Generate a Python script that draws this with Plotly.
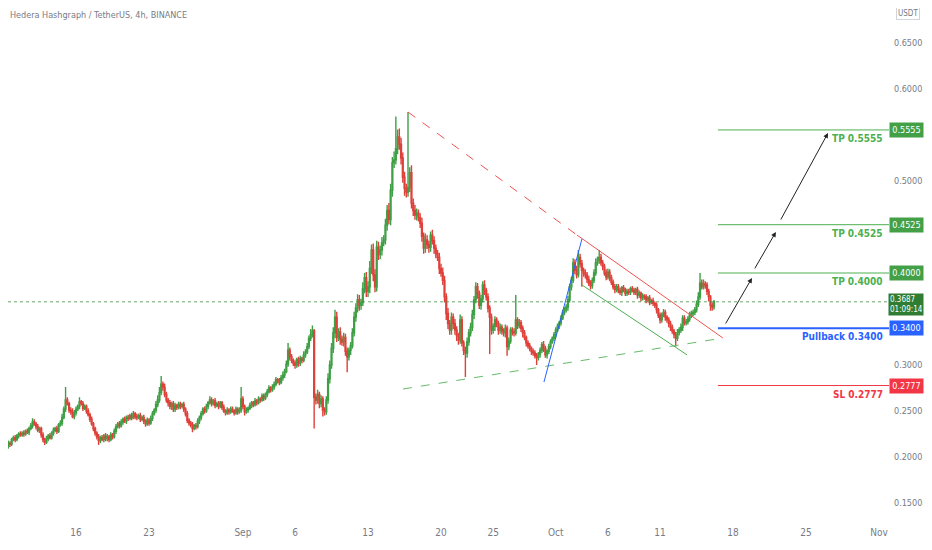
import pandas as pd
import plotly.graph_objects as go

# HBAR/USDT 4h closes, one line per day (6 candles), starting 2021-08-08 16:00
closes = [
    0.224, 0.220,
    0.218, 0.213, 0.211, 0.215, 0.214, 0.219,  # Aug 9
    0.221, 0.219, 0.223, 0.225, 0.224, 0.226,
    0.225, 0.228, 0.227, 0.231, 0.234, 0.238,
    0.236, 0.233, 0.229, 0.231, 0.224, 0.219,
    0.216, 0.220, 0.223, 0.221, 0.226, 0.229,
    0.231, 0.228, 0.235, 0.237, 0.243, 0.252,
    0.262, 0.258, 0.251, 0.249, 0.244, 0.248,  # Aug 15
    0.252, 0.255, 0.260, 0.258, 0.253, 0.255,
    0.250, 0.246, 0.241, 0.236, 0.231, 0.226,
    0.222, 0.218, 0.221, 0.219, 0.223, 0.220,
    0.222, 0.219, 0.224, 0.222, 0.228, 0.233,
    0.236, 0.234, 0.238, 0.241, 0.239, 0.243,
    0.242, 0.245, 0.243, 0.247, 0.244, 0.243,
    0.245, 0.241, 0.243, 0.239, 0.236, 0.240,
    0.237, 0.242, 0.247, 0.251, 0.257, 0.262,  # Aug 23
    0.270, 0.279, 0.276, 0.268, 0.262, 0.259,
    0.255, 0.258, 0.252, 0.256, 0.254, 0.257,
    0.255, 0.257, 0.252, 0.247, 0.240, 0.237,
    0.235, 0.231, 0.234, 0.233, 0.239, 0.243,
    0.247, 0.252, 0.250, 0.255, 0.259, 0.262,
    0.258, 0.261, 0.256, 0.258, 0.255, 0.259,
    0.254, 0.250, 0.248, 0.251, 0.249, 0.252,
    0.250, 0.248, 0.252, 0.249, 0.251, 0.263,
    0.255, 0.249, 0.251, 0.253, 0.256, 0.259,  # Sep 1
    0.257, 0.261, 0.259, 0.263, 0.262, 0.266,
    0.264, 0.268, 0.271, 0.275, 0.273, 0.276,
    0.279, 0.284, 0.283, 0.281, 0.286, 0.289,
    0.293, 0.301, 0.316, 0.309, 0.305, 0.302,
    0.300, 0.306, 0.302, 0.307, 0.305, 0.311,
    0.314, 0.320, 0.329, 0.333, 0.337, 0.265,  # Sep 7
    0.262, 0.268, 0.258, 0.263, 0.251, 0.249,
    0.262, 0.285, 0.300, 0.318, 0.335, 0.352,
    0.330, 0.336, 0.328, 0.325, 0.330, 0.315,
    0.309, 0.316, 0.321, 0.335, 0.352, 0.362,
    0.371, 0.365, 0.368, 0.383, 0.395, 0.380,
    0.385, 0.405, 0.425, 0.398, 0.385, 0.428,  # Sep 13
    0.420, 0.425, 0.433, 0.436, 0.452, 0.468,
    0.458, 0.490, 0.520, 0.523, 0.535, 0.548,
    0.540, 0.525, 0.504, 0.492, 0.488, 0.493,
    0.509, 0.476, 0.468, 0.463, 0.465, 0.460,
    0.454, 0.440, 0.427, 0.436, 0.431, 0.428,
    0.441, 0.435, 0.427, 0.421, 0.417, 0.405,
    0.400, 0.392, 0.374, 0.356, 0.345, 0.338,  # Sep 20
    0.352, 0.345, 0.338, 0.332, 0.327, 0.349,
    0.324, 0.316, 0.313, 0.325, 0.335, 0.341,
    0.355, 0.371, 0.385, 0.378, 0.365, 0.372,
    0.387, 0.381, 0.374, 0.362, 0.352, 0.338,
    0.342, 0.349, 0.345, 0.338, 0.341, 0.337,
    0.335, 0.340, 0.320, 0.326, 0.338, 0.336,
    0.335, 0.349, 0.343, 0.346, 0.340, 0.335,
    0.330, 0.324, 0.321, 0.318, 0.315, 0.313,
    0.310, 0.308, 0.312, 0.316, 0.322, 0.318,
    0.311, 0.315, 0.320, 0.325, 0.329, 0.333,
    0.338, 0.342, 0.346, 0.351, 0.357, 0.360,  # Oct 1
    0.363, 0.371, 0.385, 0.392, 0.411, 0.403,
    0.398, 0.417, 0.410, 0.403, 0.400, 0.398,
    0.393, 0.389, 0.386, 0.392, 0.400, 0.411,
    0.414, 0.417, 0.411, 0.407, 0.400, 0.396,
    0.401, 0.395, 0.390, 0.385, 0.382, 0.385,  # Oct 6
    0.381, 0.379, 0.384, 0.382, 0.378, 0.380,
    0.379, 0.383, 0.381, 0.379, 0.382, 0.376,
    0.378, 0.373, 0.375, 0.374, 0.371, 0.373,
    0.368, 0.370, 0.367, 0.365, 0.360, 0.354,
    0.349, 0.355, 0.357, 0.352, 0.349, 0.345,  # Oct 11
    0.341, 0.337, 0.333, 0.329, 0.335, 0.338,
    0.341, 0.351, 0.346, 0.347, 0.350, 0.354,
    0.356, 0.357, 0.360, 0.366, 0.374, 0.389,
    0.385, 0.388, 0.387, 0.380, 0.374, 0.365,
    0.363, 0.3687,
]
first_open = 0.226

# wick lengths in thousandths above / below the body
up_wick = [
    2, 3,
    3, 2, 2, 3, 2, 2,  2, 3, 2, 2, 3, 2,  3, 2, 3, 2, 3, 4,  3, 2, 3, 2, 2, 3,
    2, 3, 2, 3, 2, 3,  2, 3, 2, 3, 4, 3,  14, 3, 2, 3, 4, 3,  3, 2, 5, 2, 3, 2,
    2, 3, 2, 3, 2, 2,  2, 3, 2, 3, 2, 3,  3, 2, 3, 2, 3, 3,  2, 3, 3, 2, 3, 2,
    3, 2, 3, 3, 2, 3,  2, 3, 2, 3, 2, 3,  2, 3, 3, 2, 4, 5,  6, 9, 3, 4, 3, 2,
    3, 2, 3, 3, 2, 3,  3, 2, 3, 2, 3, 2,  2, 3, 2, 3, 3, 2,  3, 2, 3, 3, 2, 4,
    3, 2, 3, 2, 3, 2,  2, 3, 2, 3, 2, 3,  3, 2, 3, 2, 3, 13,  3, 2, 3, 2, 3, 2,
    2, 3, 2, 3, 2, 3,  3, 2, 3, 3, 2, 3,  3, 3, 2, 3, 3, 4,  3, 4, 8, 3, 3, 2,
    3, 2, 3, 3, 2, 4,  3, 4, 3, 6, 6, 2,  4, 5, 3, 4, 3, 3,  4, 6, 5, 6, 6, 8,
    6, 4, 5, 4, 5, 4,  4, 3, 4, 5, 6, 5,  6, 5, 4, 7, 5, 6,  6, 8, 6, 7, 6, 7,
    6, 5, 6, 5, 7, 6,  8, 7, 6, 9, 35, 8,  9, 7, 6, 6, 5, 82,  6, 8, 5, 6, 5, 4,
    5, 6, 4, 7, 5, 4,  4, 6, 5, 4, 4, 5,  5, 6, 5, 4, 6, 4,  5, 4, 5, 4, 3, 6,
    4, 3, 4, 5, 4, 5,  5, 4, 5, 4, 3, 4,  4, 5, 3, 4, 3, 4,  3, 4, 3, 3, 4, 3,
    3, 4, 3, 4, 3, 3,  4, 27, 3, 4, 3, 3,  3, 2, 3, 3, 2, 3,  3, 3, 2, 3, 3, 4,
    3, 2, 3, 3, 2, 3,  3, 3, 2, 3, 3, 3,  3, 4, 3, 4, 5, 4,  5, 8, 4, 4, 3, 4,
    3, 4, 3, 3, 4, 5,  4, 8, 4, 3, 3, 4,  4, 3, 3, 3, 3, 3,  3, 3, 2, 3, 2, 3,
    3, 2, 3, 3, 2, 3,  3, 2, 3, 2, 3, 2,  3, 2, 3, 2, 3, 2,  3, 2, 4, 3, 2, 3,
    3, 3, 2, 3, 4, 3,  4, 3, 3, 3, 3, 4,  3, 3, 3, 4, 5, 11,  4, 5, 3, 3, 3, 2,
    3, 2,
]
down_wick = [
    2, 3,
    3, 3, 2, 2, 3, 2,  2, 3, 2, 3, 2, 2,  3, 2, 2, 3, 2, 3,  2, 3, 2, 3, 3, 3,
    3, 2, 3, 2, 2, 3,  2, 3, 2, 2, 3, 2,  3, 2, 3, 3, 2, 3,  3, 2, 3, 2, 3, 2,
    3, 2, 3, 2, 3, 3,  3, 5, 3, 2, 3, 3,  3, 3, 2, 3, 2, 3,  2, 3, 2, 3, 2, 3,
    3, 2, 3, 2, 3, 3,  2, 3, 2, 3, 3, 2,  3, 2, 3, 2, 3, 3,  3, 3, 4, 3, 3, 4,
    3, 4, 3, 3, 3, 2,  3, 2, 3, 3, 3, 3,  3, 4, 2, 3, 2, 3,  3, 2, 3, 2, 3, 2,
    3, 2, 3, 2, 3, 2,  3, 2, 3, 2, 3, 2,  2, 3, 2, 3, 2, 3,  3, 4, 2, 3, 2, 3,
    3, 2, 3, 2, 3, 2,  3, 2, 3, 2, 3, 2,  3, 2, 3, 3, 2, 3,  3, 2, 3, 4, 3, 3,
    4, 3, 4, 3, 3, 2,  3, 2, 3, 3, 3, 34,  5, 4, 5, 4, 7, 4,  3, 4, 5, 4, 5, 6,
    5, 4, 6, 4, 5, 5,  17, 4, 5, 3, 4, 5,  5, 6, 5, 4, 5, 6,  6, 7, 6, 7, 6, 5,
    6, 5, 6, 4, 5, 6,  5, 6, 7, 6, 5, 6,  6, 7, 6, 8, 6, 5,  5, 6, 6, 5, 6, 4,
    5, 6, 6, 5, 5, 6,  5, 4, 6, 5, 4, 6,  4, 5, 6, 7, 6, 5,  5, 6, 5, 6, 5, 4,
    4, 5, 26, 5, 4, 4,  4, 5, 4, 6, 4, 5,  4, 5, 4, 5, 40, 5,  4, 5, 4, 5, 4, 4,
    4, 5, 10, 4, 3, 4,  4, 3, 4, 3, 4, 5,  3, 4, 3, 3, 4, 3,  3, 8, 3, 4, 3, 4,
    3, 4, 3, 3, 2, 3,  3, 2, 3, 3, 2, 3,  3, 4, 3, 4, 3, 4,  4, 3, 4, 18, 4, 4,
    4, 3, 4, 3, 3, 3,  3, 4, 3, 4, 3, 4,  3, 4, 3, 3, 4, 3,  3, 3, 4, 3, 3, 3,
    3, 3, 2, 3, 3, 4,  3, 4, 3, 3, 4, 3,  3, 2, 3, 3, 4, 3,  4, 3, 3, 4, 3, 4,
    4, 3, 4, 9, 3, 3,  3, 4, 3, 3, 3, 3,  3, 3, 3, 3, 3, 3,  3, 3, 4, 4, 5, 6,
    4, 3,
]

# trade plan levels
level_names = ['TP 0.5555', 'TP 0.4525', 'TP 0.4000', 'Pullback 0.3400', 'SL 0.2777']
level_prices = [0.5555, 0.4525, 0.4000, 0.3400, 0.2777]
level_colors = ['#4CAF50', '#4CAF50', '#4CAF50', '#2962FF', '#F23645']
last_price = 0.3687
countdown = '01:09:14'

# drawn lines: (start time, start price, end time, end price, colour, dash)
trend_lines = [
    ('2021-09-16 19:55', 0.5750, '2021-10-03 00:45', 0.4413, '#EF5350', 'dash'),
    ('2021-10-03 00:45', 0.4413, '2021-10-17 00:45', 0.3293, '#EF5350', 'solid'),
    ('2021-09-16 08:25', 0.2739, '2021-10-17 00:45', 0.3293, '#66BB6A', 'dash'),
    ('2021-09-29 20:50', 0.2815, '2021-10-03 12:15', 0.4370, '#2962FF', 'solid'),
    ('2021-10-03 12:15', 0.3870, '2021-10-13 14:00', 0.3110, '#4CAF50', 'solid'),
]
# projection arrows: (tail time, tail price, head time, head price)
arrows = [
    ('2021-10-17 05:00', 0.3435, '2021-10-19 19:30', 0.3946),
    ('2021-10-20 00:00', 0.4033, '2021-10-22 02:30', 0.4446),
    ('2021-10-22 12:00', 0.4565, '2021-10-27 02:30', 0.5522),
]

tick_dates = ['2021-08-09', '2021-08-16', '2021-08-23', '2021-09-01', '2021-09-06',
              '2021-09-13', '2021-09-20', '2021-09-25', '2021-10-01', '2021-10-06',
              '2021-10-11', '2021-10-18', '2021-10-25', '2021-11-01']
tick_text = ['9', '16', '23', 'Sep', '6', '13', '20', '25', 'Oct', '6', '11', '18', '25', 'Nov']
price_ticks = [0.15, 0.20, 0.25, 0.30, 0.50, 0.60, 0.65]

# page body has an 8px margin, so the figure is sized to sit inside the window
x_range = ['2021-08-09 11:30', '2021-11-01 22:50']
y_range = [0.12609, 0.68804]
level_start = '2021-10-16 13:10'

times = pd.date_range('2021-08-08 16:00', periods=len(closes), freq='4h')
opens = [first_open] + closes[:-1]
highs = [max(o, c) + u / 1000 for o, c, u in zip(opens, closes, up_wick)]
lows = [min(o, c) - d / 1000 for o, c, d in zip(opens, closes, down_wick)]

GREEN = '#3E9F45'
RED = '#E0403A'
GREY = '#787B86'
FONT = 'Liberation Sans Narrow, DejaVu Sans Condensed, Roboto, sans-serif'

fig = go.Figure()
fig.add_trace(go.Candlestick(
    x=times, open=opens, high=highs, low=lows, close=closes,
    increasing=dict(line=dict(color=GREEN, width=1.4), fillcolor=GREEN),
    decreasing=dict(line=dict(color=RED, width=1.4), fillcolor=RED),
    whiskerwidth=0, showlegend=False, hoverinfo='skip'))

# current price dotted line
fig.add_shape(type='line', xref='x', yref='y', x0=x_range[0], x1=x_range[1],
              y0=last_price, y1=last_price,
              line=dict(color='rgba(56,142,60,0.75)', width=1, dash='dot'))

for x0, y0, x1, y1, col, dash in trend_lines:
    fig.add_shape(type='line', xref='x', yref='y', x0=x0, y0=y0, x1=x1, y1=y1,
                  line=dict(color=col, width=1, dash=dash))

for name, price, col in zip(level_names, level_prices, level_colors):
    fig.add_shape(type='line', xref='x', yref='y', x0=level_start, x1=x_range[1],
                  y0=price, y1=price,
                  line=dict(color=col, width=2 if 'Pullback' in name else 1))
    fig.add_annotation(xref='paper', yref='y', x=0.9955, y=price, text='<b>%s</b>' % name,
                       xanchor='right', yanchor='top', yshift=-1, showarrow=False,
                       font=dict(family=FONT, size=10, color=col))
    box_col = '#43A047' if col == '#4CAF50' else col
    fig.add_annotation(xref='paper', yref='y', x=1, y=price, text='%.4f' % price,
                       xanchor='left', yanchor='middle', showarrow=False,
                       bgcolor=box_col, width=29, borderpad=2,
                       font=dict(family=FONT, size=9, color='white'))

fig.add_annotation(xref='paper', yref='y', x=1, y=last_price,
                   text='%.4f<br>%s' % (last_price, countdown),
                   xanchor='left', yanchor='top', yshift=9, xshift=-1, showarrow=False,
                   align='left', bgcolor='#2E7D32', width=32, borderpad=1,
                   font=dict(family=FONT, size=8, color='white'))

for ax, ay, x, y in arrows:
    fig.add_annotation(xref='x', yref='y', axref='x', ayref='y', x=x, y=y, ax=ax, ay=ay,
                       text='', showarrow=True, arrowhead=2, arrowsize=1,
                       arrowwidth=1, arrowcolor='#222222')

fig.add_annotation(xref='paper', yref='paper', x=0, y=0.9865,
                   text='Hedera Hashgraph / TetherUS, 4h, BINANCE', showarrow=False,
                   xanchor='left', yanchor='middle', font=dict(family=FONT, size=9, color=GREY))
fig.add_annotation(xref='paper', yref='paper', x=1.022, y=0.99, text='USDT',
                   showarrow=False, xanchor='center', yanchor='middle',
                   bordercolor='#D1D4DC', borderwidth=1, borderpad=1,
                   font=dict(family=FONT, size=8, color=GREY))

fig.update_layout(
    width=916, height=534,
    margin=dict(l=0, r=35, t=0, b=17, autoexpand=False),
    paper_bgcolor='white', plot_bgcolor='white',
    font=dict(family=FONT, size=10, color=GREY),
    xaxis=dict(type='date', range=x_range, rangeslider=dict(visible=False),
               tickvals=tick_dates, ticktext=tick_text, showgrid=False,
               zeroline=False, showline=False, ticks='', automargin=False,
               tickfont=dict(family=FONT, size=10, color=GREY)),
    yaxis=dict(side='right', range=y_range, tickvals=price_ticks,
               tickformat='.4f', showgrid=False, zeroline=False, showline=False,
               ticks='', ticklabelstandoff=4, automargin=False,
               tickfont=dict(family=FONT, size=9, color=GREY)),
)

fig.write_html('out.html')
